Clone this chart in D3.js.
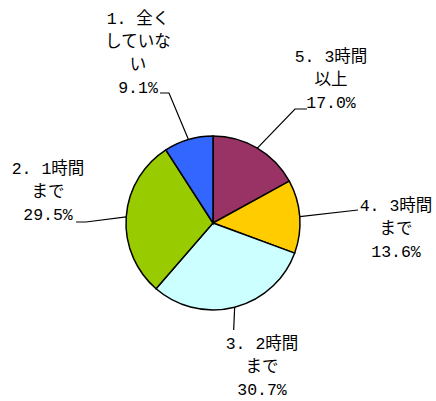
<!DOCTYPE html>
<html>
<head>
<meta charset="utf-8">
<script src="https://cdn.jsdelivr.net/npm/d3@7"></script>
<style>
  body { margin: 0; background: #fff; }
  text { font-family: "Liberation Mono", "Noto Sans CJK JP", sans-serif; font-size: 16.5px; fill: #000; }
</style>
</head>
<body>
<div id="chart"></div>
<script>
// categories (answer options) and their shares in %
const categories = ["1. 全くしていない", "2. 1時間まで", "3. 2時間まで", "4. 3時間まで", "5. 3時間以上"];
const percents = [9.1, 29.5, 30.7, 13.6, 17.0];
const colors = ["#3366ff", "#99cc00", "#ccffff", "#ffcc00", "#993366"];

const width = 436, height = 401;
const cx = 213, cy = 223, radius = 87;

// where each label sits and how its text wraps (char index of the breaks)
const labelLayout = [
    { x: 138, y: 19, breaks: [5, 9], elbow: [[169, 93], [160, 93]] },
    { x: 48, y: 169, breaks: [6], elbow: [[86, 222], [76, 222]] },
    { x: 262, y: 344, breaks: [6], elbow: [] },
    { x: 396, y: 206, breaks: [6], elbow: [[358, 210]] },
    { x: 331, y: 57, breaks: [6], elbow: [[295, 109], [307, 109]] }
];
const lineGap = 23;

const svg = d3.select("#chart").append("svg")
    .attr("width", width)
    .attr("height", height);

const g = svg.append("g").attr("transform", `translate(${cx},${cy})`);

// pie goes clockwise from the top starting with option 5
const order = [4, 3, 2, 1, 0];
const pie = d3.pie().sort(null).value(i => percents[i]);
const arcs = pie(order);

const arc = d3.arc().innerRadius(0).outerRadius(radius);
const edge = d3.arc().innerRadius(radius).outerRadius(radius);

g.selectAll("path.slice")
    .data(arcs)
    .enter().append("path")
    .attr("class", "slice")
    .attr("d", arc)
    .attr("fill", d => colors[d.data])
    .attr("stroke", "#000")
    .attr("stroke-width", 1.5);

// leader lines
arcs.forEach(d => {
    const i = d.data;
    const p = edge.centroid(d);
    const lay = labelLayout[i];
    let pts = [[p[0] + cx, p[1] + cy]].concat(lay.elbow);
    if (i === 2) pts.push([pts[0][0] - 1, 330]);
    svg.append("path")
        .attr("d", d3.line()(pts))
        .attr("fill", "none")
        .attr("stroke", "#000")
        .attr("stroke-width", 1.2);
});

// labels
categories.forEach((c, i) => {
    const lay = labelLayout[i];
    const lines = [];
    let start = 0;
    lay.breaks.forEach(b => { lines.push(c.slice(start, b)); start = b; });
    lines.push(c.slice(start));
    lines.push(d3.format(".1f")(percents[i]) + "%");
    svg.selectAll(null)
        .data(lines)
        .enter().append("text")
        .attr("x", lay.x)
        .attr("y", (d, k) => lay.y + k * lineGap)
        .attr("text-anchor", "middle")
        .attr("dominant-baseline", "central")
        .text(d => d);
});
</script>
</body>
</html>
